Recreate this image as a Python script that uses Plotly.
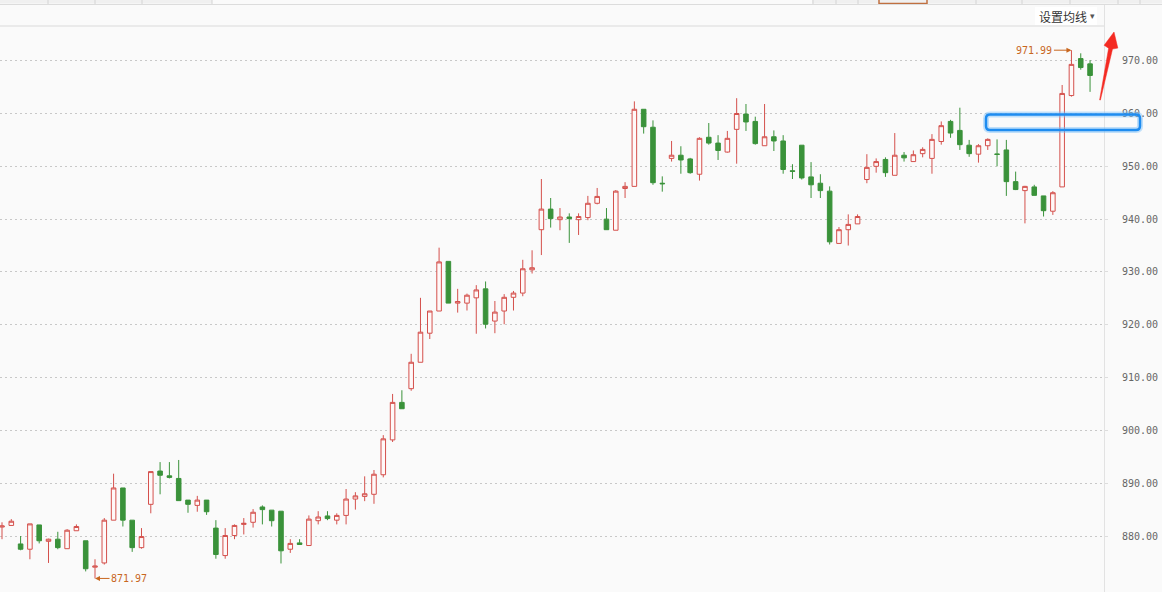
import math
import plotly.graph_objects as go

# ---------------- data ----------------
open_ = [881.7, 882.0, 878.5, 877.5, 882.1, 879.0, 879.4, 877.6, 881.0, 879.1,
         874.1, 874.9, 883.0, 889.1, 883.0, 877.8, 886.0, 892.3, 891.4, 890.9,
         886.8, 885.8, 886.8, 881.5, 876.3, 880.1, 882.2, 882.6, 885.5, 884.9,
         884.7, 877.5, 878.7, 878.2, 882.9, 883.8, 883.0, 883.9, 887.0, 887.5,
         887.9, 891.6, 898.2, 905.3, 907.9, 912.9, 918.4, 922.6, 932.0, 924.1,
         924.1, 925.1, 926.8, 920.7, 922.6, 925.2, 926.0, 930.4, 938.0, 941.9,
         939.9, 940.4, 939.9, 940.3, 943.0, 940.0, 937.9, 945.8, 946.2, 960.8,
         957.4, 946.8, 951.5, 952.1, 951.4, 948.5, 955.5, 954.4, 952.7, 957.0,
         959.9, 958.5, 953.9, 955.6, 954.8, 949.15, 954.0, 948.0, 946.8, 945.3,
         935.4, 938.0, 939.1, 947.5, 950.0, 951.3, 948.3, 952.1, 950.9, 952.4,
         951.5, 954.7, 958.5, 956.8, 954.0, 952.3, 953.9, 952.35, 953.1, 947.1,
         945.4, 946.1, 944.4, 941.5, 946.1, 963.4, 970.4, 969.4]
high = [882.6, 883.2, 880.0, 882.3, 882.1, 879.5, 880.8, 881.3, 882.2, 879.1,
        875.6, 883.4, 891.8, 889.1, 883.0, 881.5, 892.2, 894.0, 894.0, 894.4,
        886.8, 887.6, 886.8, 883.0, 881.5, 882.2, 883.4, 885.1, 885.8, 884.9,
        884.7, 879.4, 879.4, 883.9, 884.7, 884.7, 884.3, 888.9, 888.3, 891.3,
        892.5, 899.1, 906.9, 907.6, 914.5, 925.1, 922.6, 934.6, 932.0, 926.8,
        925.9, 927.5, 928.2, 924.5, 925.8, 926.4, 932.3, 934.1, 947.6, 944.0,
        942.1, 941.1, 941.1, 944.4, 945.9, 942.1, 945.5, 947.0, 962.3, 960.8,
        958.7, 948.1, 954.8, 953.8, 951.6, 955.5, 958.2, 955.9, 956.7, 962.9,
        961.8, 959.4, 961.8, 956.8, 955.9, 950.4, 954.0, 950.8, 948.5, 946.2,
        938.5, 940.9, 940.9, 952.3, 951.5, 951.7, 956.3, 952.7, 953.0, 953.6,
        956.1, 958.5, 958.8, 961.1, 955.0, 954.2, 955.3, 955.1, 955.0, 949.0,
        946.3, 946.5, 944.4, 945.3, 965.4, 971.99, 971.4, 970.1]
low = [879.4, 882.0, 877.3, 875.6, 878.6, 874.9, 877.5, 877.6, 881.0, 873.3,
       871.97, 874.6, 883.0, 881.8, 877.0, 877.6, 884.3, 887.9, 890.9, 886.7,
       884.4, 884.6, 884.0, 875.7, 875.7, 879.4, 880.3, 881.6, 882.2, 881.8,
       874.8, 876.8, 878.4, 878.2, 882.2, 883.0, 882.2, 882.2, 885.0, 886.6,
       886.1, 891.1, 897.8, 904.1, 907.5, 912.9, 917.3, 922.6, 924.1, 922.3,
       922.7, 918.3, 919.3, 918.4, 920.1, 922.7, 925.4, 929.7, 933.2, 938.4,
       937.9, 935.5, 937.0, 939.8, 942.8, 938.0, 937.9, 944.0, 946.2, 956.2,
       946.5, 945.2, 950.9, 948.6, 948.6, 947.3, 954.1, 951.2, 952.6, 950.5,
       956.7, 954.1, 953.9, 952.9, 948.6, 947.6, 947.5, 944.0, 944.0, 935.2,
       935.4, 935.0, 939.1, 946.8, 948.8, 948.0, 948.3, 950.9, 950.9, 951.7,
       948.6, 954.1, 955.4, 953.1, 951.8, 950.7, 953.1, 950.0, 944.4, 945.5,
       939.2, 944.5, 940.5, 940.8, 946.1, 963.2, 968.3, 964.1]
close = [881.9, 882.8, 877.5, 882.3, 879.1, 879.4, 877.8, 881.1, 881.8, 873.8,
         874.3, 883.0, 889.1, 883.0, 877.8, 879.9, 892.2, 891.5, 891.1, 886.7,
         886.0, 886.8, 884.6, 876.5, 880.1, 882.0, 882.4, 884.5, 885.0, 882.9,
         877.2, 878.6, 878.4, 883.2, 883.6, 883.3, 883.9, 887.0, 887.6, 888.0,
         891.7, 898.4, 905.3, 904.1, 912.9, 918.6, 922.6, 931.9, 924.1, 924.4,
         925.6, 926.6, 920.1, 922.4, 925.2, 926.0, 930.6, 930.8, 941.9, 940.1,
         940.4, 940.1, 940.5, 943.0, 944.3, 938.0, 945.3, 946.2, 960.8, 957.5,
         946.9, 946.7, 952.1, 951.2, 948.8, 955.3, 954.4, 953.0, 955.3, 960.0,
         958.4, 954.3, 955.6, 954.8, 949.4, 949.05, 947.8, 946.5, 945.4, 935.7,
         938.0, 939.0, 940.5, 949.8, 950.9, 948.8, 952.1, 951.6, 952.2, 953.2,
         955.1, 957.7, 956.3, 954.1, 952.4, 953.9, 955.1, 952.25, 947.1, 945.6,
         946.2, 944.5, 941.6, 945.0, 963.8, 969.3, 968.7, 967.2]
day_index = list(range(len(open_)))

y_ticks = [880, 890, 900, 910, 920, 930, 940, 950, 960, 970]
y_tick_labels = ["880.00", "890.00", "900.00", "910.00", "920.00",
                 "930.00", "940.00", "950.00", "960.00", "970.00"]
ma_button_text = "设置均线"

# ---------------- layout helpers ----------------
W, H = 1162, 592
ML, MR, MT, MB = 0, 58, 27, 0
PW = W - ML - MR
PH = H - MT - MB


def px(x):
    return (x - ML) / PW


def py(y):
    return (H - MB - y) / PH


def P(x, y):
    return f"{px(x):.6f},{py(y):.6f}"


RED = "#D4504C"
GREEN = "#3A923A"
ORANGE = "#C8661E"

fig = go.Figure()
fig.add_trace(go.Candlestick(
    x=day_index, open=open_, high=high, low=low, close=close,
    increasing=dict(line=dict(color=RED, width=1), fillcolor="#FFF8F8"),
    decreasing=dict(line=dict(color=GREEN, width=1), fillcolor=GREEN),
    whiskerwidth=0, hoverinfo="skip", showlegend=False,
))

# max / min markers
i_max = max(range(len(high)), key=lambda i: high[i])
i_min = min(range(len(low)), key=lambda i: low[i])
ann = [
    dict(x=day_index[i_max], y=high[i_max], xref="x", yref="y",
         text=f"{high[i_max]:.2f}", showarrow=True, ax=-37, ay=0,
         arrowhead=2, arrowsize=1, arrowwidth=1, arrowcolor=ORANGE, standoff=0,
         font=dict(family="DejaVu Sans Mono", size=10, color=ORANGE)),
    dict(x=day_index[i_min], y=low[i_min], xref="x", yref="y",
         text=f"{low[i_min]:.2f}", showarrow=True, ax=34, ay=0,
         arrowhead=2, arrowsize=1, arrowwidth=1, arrowcolor=ORANGE, standoff=0,
         font=dict(family="DejaVu Sans Mono", size=10, color=ORANGE)),
    dict(x=px(1037), y=py(16), xref="paper", yref="paper", xanchor="left",
         yanchor="middle", text=ma_button_text, showarrow=False,
         font=dict(family="Noto Sans CJK SC", size=12, color="#333333")),
    dict(x=px(1092), y=py(16), xref="paper", yref="paper", xanchor="center",
         yanchor="middle", text="▾", showarrow=False,
         font=dict(family="DejaVu Sans", size=9, color="#555555")),
]

shapes = []
# tab bar at the very top
shapes.append(dict(type="rect", xref="paper", yref="paper", x0=px(0), x1=px(212),
                   y0=py(3.5), y1=py(0), fillcolor="#F0F0F0", line=dict(width=0), layer="above"))
shapes.append(dict(type="rect", xref="paper", yref="paper", x0=px(812), x1=px(1162),
                   y0=py(3.5), y1=py(0), fillcolor="#F0F0F0", line=dict(width=0), layer="above"))
for sx in [48, 95, 142, 212, 813, 836, 858, 976, 1022, 1070, 1118, 1140]:
    shapes.append(dict(type="line", xref="paper", yref="paper", x0=px(sx), x1=px(sx),
                       y0=py(4), y1=py(0), line=dict(color="#D4D4D4", width=1)))
shapes.append(dict(type="rect", xref="paper", yref="paper", x0=px(879), x1=px(927),
                   y0=py(3.5), y1=py(-1), fillcolor="rgba(0,0,0,0)",
                   line=dict(color="#C07040", width=1.5)))
shapes.append(dict(type="line", xref="paper", yref="paper", x0=px(0), x1=px(1162),
                   y0=py(4.5), y1=py(4.5), line=dict(color="#DCDCDC", width=1)))
# panel borders
shapes.append(dict(type="line", xref="paper", yref="paper", x0=px(0), x1=px(1104),
                   y0=py(26), y1=py(26), line=dict(color="#EAEAEA", width=2)))
shapes.append(dict(type="line", xref="paper", yref="paper", x0=px(1104.5), x1=px(1104.5),
                   y0=py(592), y1=py(5), line=dict(color="#E2E2E2", width=1)))
# white box behind the MA button
shapes.append(dict(type="rect", xref="paper", yref="paper", x0=px(1035), x1=px(1097),
                   y0=py(25), y1=py(7), fillcolor="#FFFFFF", line=dict(width=0), layer="below"))

# blue rounded highlight box
bx0, bx1, by0, by1, r = 986, 1140, 114.5, 130, 4
blue_path = (f"M {P(bx0 + r, by0)} L {P(bx1 - r, by0)} Q {P(bx1, by0)} {P(bx1, by0 + r)} "
             f"L {P(bx1, by1 - r)} Q {P(bx1, by1)} {P(bx1 - r, by1)} "
             f"L {P(bx0 + r, by1)} Q {P(bx0, by1)} {P(bx0, by1 - r)} "
             f"L {P(bx0, by0 + r)} Q {P(bx0, by0)} {P(bx0 + r, by0)} Z")
shapes.append(dict(type="path", xref="paper", yref="paper", path=blue_path,
                   line=dict(color="rgba(120,190,250,0.45)", width=6)))
shapes.append(dict(type="path", xref="paper", yref="paper", path=blue_path,
                   line=dict(color="#1E8CF0", width=2.5)))

# red hand-drawn arrow
tx, ty = 1100.0, 100.0
hx, hy = 1114.0, 32.0
dx, dy = hx - tx, hy - ty
ln = math.hypot(dx, dy)
ux, uy = dx / ln, dy / ln
nx, ny = -uy, ux
bxc, byc = hx - 17 * ux, hy - 17 * uy
pts = [
    (tx - 0.4 * nx, ty - 0.4 * ny),
    (bxc - 2.0 * nx, byc - 2.0 * ny),
    (bxc - 7.0 * nx + 2 * ux, byc - 7.0 * ny + 2 * uy),
    (hx, hy),
    (bxc + 7.0 * nx + 2 * ux, byc + 7.0 * ny + 2 * uy),
    (bxc + 2.0 * nx, byc + 2.0 * ny),
    (tx + 0.4 * nx, ty + 0.4 * ny),
]
arrow_path = "M " + " L ".join(P(a, b) for a, b in pts) + " Z"
shapes.append(dict(type="path", xref="paper", yref="paper", path=arrow_path,
                   fillcolor="#F42A22", line=dict(color="#F42A22", width=0.5)))

fig.update_layout(
    width=W, height=H,
    margin=dict(l=ML, r=MR, t=MT, b=MB, pad=0),
    paper_bgcolor="#FAFAFA", plot_bgcolor="#FAFAFA",
    showlegend=False,
    annotations=ann, shapes=shapes,
    hovermode=False,
    xaxis=dict(range=[-0.215, 118.5], showgrid=False, zeroline=False,
               showticklabels=False, showline=False, ticks="",
               rangeslider=dict(visible=False), fixedrange=True),
    yaxis=dict(range=[869.40, 976.38], side="right",
               tickvals=y_ticks, ticktext=y_tick_labels,
               showgrid=True, gridcolor="#C8C8C8", griddash="2px,3px", gridwidth=1,
               zeroline=False, showline=False,
               ticks="outside", ticklen=3, tickcolor="#DDDDDD",
               ticklabelstandoff=12,
               tickfont=dict(family="DejaVu Sans Mono", size=10, color="#666666"),
               fixedrange=True),
)

fig.write_html(
    "out.html",
    config={"displayModeBar": False},
    post_script="document.body.style.margin='0';document.body.style.overflow='hidden';",
)
